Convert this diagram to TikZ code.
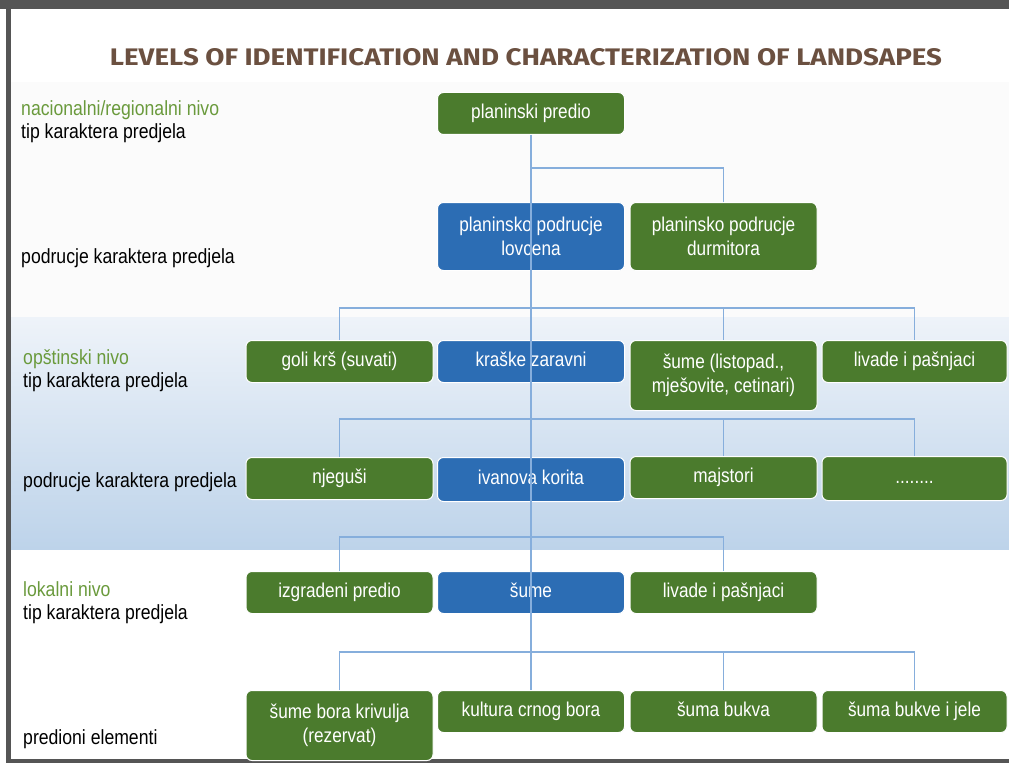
\documentclass[tikz,border=0pt]{standalone}
\usepackage{fontspec}
\setmainfont{Liberation Sans}[FakeStretch=0.86]
\newfontfamily\titlefont{Fira Sans}
\usetikzlibrary{calc}
\definecolor{nodegreen}{HTML}{4B7B2D}
\definecolor{nodeblue}{HTML}{2C6DB4}
\definecolor{connblue}{HTML}{86AEDC}
\definecolor{labgreen}{HTML}{6A9A3C}
\definecolor{titlebrown}{HTML}{6B5040}
\definecolor{framegray}{HTML}{555555}
\definecolor{bandtop}{HTML}{EEF3F9}
\definecolor{bandbot}{HTML}{BDD3EA}
\definecolor{upperbg}{HTML}{FBFBFB}
\tikzset{
  box/.style={rounded corners=6pt, draw=white, line width=1pt, text=white,
    minimum width=187pt, minimum height=42pt, align=center, inner sep=2pt,
    font=\fontsize{20}{24}\selectfont, anchor=north},
  one/.style={text height=14.5pt, text depth=4.5pt},
  gbox/.style={box, fill=nodegreen},
  bbox/.style={box, fill=nodeblue},
  conn/.style={draw=connblue, line width=1.1pt},
  lab/.style={anchor=base west, inner sep=0pt, font=\fontsize{20.5}{24}\selectfont, text=black},
  glab/.style={lab, text=labgreen}
}
\begin{document}
\begin{tikzpicture}[x=1pt,y=-1pt]
\useasboundingbox (0,0) rectangle (1009,765);
% background and frame
\fill[white] (0,0) rectangle (1009,765);
\fill[upperbg] (10,82) rectangle (1009,317);
\shade[top color=bandtop, bottom color=bandbot] (10,317) rectangle (1009,549);
\fill[framegray] (0,0) rectangle (1009,9);
\fill[framegray] (6,0) rectangle (10.5,763);
\fill[framegray] (6,759) rectangle (1009,763);
% title
\node[text=titlebrown] (title) at (526,57) {\resizebox{832pt}{17pt}{\titlefont\bfseries LEVELS OF IDENTIFICATION AND CHARACTERIZATION OF LANDSAPES}};
% left labels
\node[glab] (l1a) at (21,116) {nacionalni/regionalni nivo};
\node[lab] (l1b) at (21,139) {tip karaktera predjela};
\node[lab] (l2) at (21,263) {podrucje karaktera predjela};
\node[glab] (l3a) at (23,364) {opštinski nivo};
\node[lab] (l3b) at (23,387) {tip karaktera predjela};
\node[lab] (l4) at (23,487) {podrucje karaktera predjela};
\node[glab] (l5a) at (23,596) {lokalni nivo};
\node[lab] (l5b) at (23,619) {tip karaktera predjela};
\node[lab] (l6) at (23,744) {predioni elementi};
% nodes
\node[gbox, one] (pp) at (531,92) {planinski predio};
\node[bbox, minimum height=68pt] (lov) at (531,202) {planinsko podrucje\\lovcena};
\node[gbox, minimum height=68pt] (dur) at (723.5,202) {planinsko podrucje\\durmitora};
\node[gbox, one] (goli) at (339.5,340) {goli krš (suvati)};
\node[bbox, one] (kras) at (531,340) {kraške zaravni};
\node[gbox, minimum height=70pt] (sume1) at (723.5,340) {šume (listopad.,\\mješovite, cetinari)};
\node[gbox, one, minimum width=185pt] (liv1) at (914.5,340) {livade i pašnjaci};
\node[gbox, one] (nje) at (339.5,457) {njeguši};
\node[bbox, one, minimum height=44pt] (iva) at (531,457) {ivanova korita};
\node[gbox, one] (maj) at (723.5,456) {majstori};
\node[gbox, one, minimum width=185pt, minimum height=44pt] (dots) at (914.5,456) {........};
\node[gbox, one] (izg) at (339.5,571) {izgradeni predio};
\node[bbox, one] (sume2) at (531,571) {šume};
\node[gbox, one] (liv2) at (723.5,571) {livade i pašnjaci};
\node[gbox, minimum height=70pt] (sbk) at (339.5,690) {šume bora krivulja\\(rezervat)};
\node[gbox, one] (kcb) at (531,690) {kultura crnog bora};
\node[gbox, one] (sb) at (723.5,690) {šuma bukva};
\node[gbox, one, minimum width=185pt] (sbj) at (914.5,690) {šuma bukve i jele};
% branches
\draw[conn] (dur.north) -- ++(0,-34) -| (pp.south);
\draw[conn] (goli.north) -- ++(0,-32) -| (liv1.north);
\draw[conn] (sume1.north) -- ++(0,-32);
\draw[conn] (nje.north) -- ++(0,-38) -| (dots.north);
\draw[conn] (maj.north) -- ++(0,-37);
\draw[conn] (izg.north) -- ++(0,-34) -| (liv2.north);
\draw[conn] (sbk.north) -- ++(0,-38) -| (sbj.north);
\draw[conn] (sb.north) -- ++(0,-38);
% trunk, drawn over the blue boxes
\draw[conn] (pp.south) -- (kcb.north);
\end{tikzpicture}
\end{document}
